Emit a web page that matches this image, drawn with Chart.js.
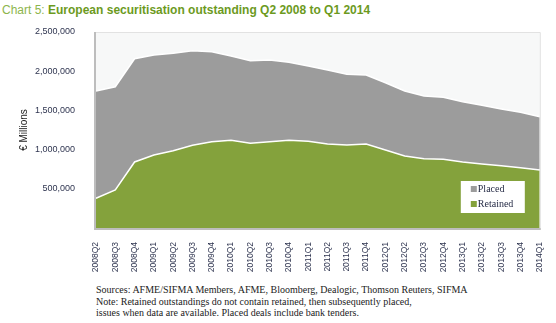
<!DOCTYPE html>
<html>
<head>
<meta charset="utf-8">
<script src="https://cdn.jsdelivr.net/npm/chart.js@4.4.1/dist/chart.umd.min.js"></script>
<style>
  body { margin: 0; background: #fff; width: 556px; height: 323px; position: relative; overflow: hidden; }
  #title { position: absolute; left: 2px; top: 3px; font: 12px "Liberation Sans", Arial, sans-serif; color: #8db54c; white-space: nowrap; }
  #title b { color: #6c9a1e; }
  #wrap { position: absolute; left: 0; top: 0; width: 556px; height: 272px; }
  #notes { position: absolute; left: 96px; top: 284px; font: 10px "Liberation Serif", "Times New Roman", serif; color: #222; line-height: 11.5px; white-space: nowrap; }
</style>
</head>
<body>
<div id="title">Chart 5: <b>European securitisation outstanding Q2 2008 to Q1 2014</b></div>
<div id="wrap"><canvas id="chart"></canvas></div>
<div id="notes">
  Sources: AFME/SIFMA Members, AFME, Bloomberg, Dealogic, Thomson Reuters, SIFMA<br>
  Note: Retained outstandings do not contain retained, then subsequently placed,<br>
  issues when data are available. Placed deals include bank tenders.
</div>
<script>
// quarters, 2008Q2 .. 2014Q1
const quarters = [
  "2008Q2", "2008Q3", "2008Q4", "2009Q1", "2009Q2", "2009Q3", "2009Q4", "2010Q1",
  "2010Q2", "2010Q3", "2010Q4", "2011Q1", "2011Q2", "2011Q3", "2011Q4", "2012Q1",
  "2012Q2", "2012Q3", "2012Q4", "2013Q1", "2013Q2", "2013Q3", "2013Q4", "2014Q1"
];

// € millions outstanding
const retained = [
  379000, 485000, 842000, 931000, 986000, 1055000, 1101000, 1119000,
  1080000, 1101000, 1119000, 1106000, 1071000, 1059000, 1071000, 995000,
  918000, 884000, 876000, 842000, 816000, 795000, 769000, 740000
];
const total = [
  1747000, 1802000, 2159000, 2207000, 2228000, 2261000, 2249000, 2194000,
  2134000, 2143000, 2114000, 2066000, 2015000, 1960000, 1952000, 1853000,
  1747000, 1684000, 1667000, 1611000, 1565000, 1518000, 1476000, 1420000
];
const placed = total.map((t, i) => t - retained[i]);

const yTicks = [0, 500000, 1000000, 1500000, 2000000, 2500000];

const plotBg = {
  id: "plotBg",
  beforeDraw(chart) {
    const { ctx, chartArea: a } = chart;
    ctx.save();
    ctx.fillStyle = "#f7f8f8";
    ctx.fillRect(a.left, a.top, a.width, a.height);
    ctx.restore();
  },
  afterDatasetsDraw(chart) {
    const { ctx, chartArea: a } = chart;
    ctx.save();
    ctx.strokeStyle = "#e2e2e2";
    ctx.lineWidth = 1;
    ctx.beginPath();
    ctx.moveTo(a.left, a.top + 0.5);
    ctx.lineTo(a.right + 0.5, a.top + 0.5);
    ctx.lineTo(a.right + 0.5, a.bottom);
    ctx.stroke();
    ctx.strokeStyle = "#bdbdbd";
    ctx.lineWidth = 2;
    ctx.beginPath();
    ctx.moveTo(a.left - 1, a.top);
    ctx.lineTo(a.left - 1, a.bottom + 1);
    ctx.lineTo(a.right + 1, a.bottom + 1);
    ctx.stroke();
    ctx.restore();
  }
};

// legend box drawn inside the plot, lower right
const boxLegend = {
  id: "boxLegend",
  afterDraw(chart) {
    const { ctx, chartArea: a } = chart;
    const w = 64, h = 32;
    const x = a.right - 15 - w, y = a.bottom - 15 - h;
    ctx.save();
    ctx.fillStyle = "#fff";
    ctx.fillRect(x, y, w, h);
    ctx.font = '10px "Liberation Serif", serif';
    ctx.textBaseline = "middle";
    const items = chart.data.datasets.slice().reverse();
    items.forEach((ds, i) => {
      const cy = y + 8 + i * 15;
      ctx.fillStyle = ds.backgroundColor;
      ctx.fillRect(x + 10, cy - 3, 6, 6);
      ctx.fillStyle = "#1f2540";
      ctx.fillText(ds.label, x + 17, cy);
    });
    ctx.restore();
  }
};

new Chart(document.getElementById("chart"), {
  type: "line",
  data: {
    labels: quarters,
    datasets: [
      {
        label: "Retained",
        data: retained,
        backgroundColor: "#84a23c",
        borderColor: "#ffffff",
        borderWidth: 1.5,
        pointRadius: 0,
        fill: "origin"
      },
      {
        label: "Placed",
        data: placed,
        backgroundColor: "#9c9c9c",
        borderColor: "#ffffff",
        borderWidth: 1.5,
        pointRadius: 0,
        fill: "-1"
      }
    ]
  },
  options: {
    responsive: true,
    maintainAspectRatio: false,
    animation: false,
    layout: { padding: { top: 32, right: 10, left: 14, bottom: 0 } },
    plugins: { legend: { display: false }, tooltip: { enabled: false } },
    scales: {
      x: {
        grid: { display: false },
        border: { display: false },
        ticks: {
          minRotation: 90,
          maxRotation: 90,
          padding: 6,
          color: "#2f3550",
          font: { family: "Liberation Sans", size: 8.5 }
        },
        afterFit(s) { s.height = 44; }
      },
      y: {
        stacked: true,
        min: 0,
        max: 2500000,
        grid: { display: false },
        border: { display: false },
        title: {
          display: true,
          text: "€ Millions",
          color: "#222",
          font: { family: "Liberation Sans", size: 10 }
        },
        afterBuildTicks(s) { s.ticks = yTicks.map(v => ({ value: v })); },
        ticks: {
          padding: 13,
          color: "#2f3550",
          font: { family: "Liberation Sans", size: 9 },
          callback: v => v === 0 ? "" : v.toLocaleString("en-US")
        },
        afterFit(s) { s.width = 82; }
      }
    }
  },
  plugins: [plotBg, boxLegend]
});
</script>
</body>
</html>
